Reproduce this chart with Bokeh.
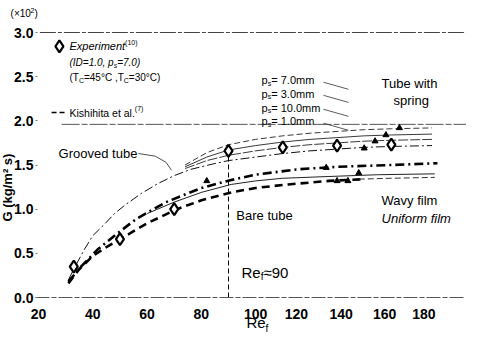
import math
from bokeh.plotting import figure
from bokeh.models import Range1d, FixedTicker, PrintfTickFormatter
from bokeh.core.properties import value
from bokeh.embed import file_html
from bokeh.resources import INLINE

FONT = "Liberation Sans"

# ---------------- data ----------------
# printed x tick labels and the places on the Re scale where the scan prints them
x_tick_labels = ["20", "40", "60", "80", "100", "120", "140", "160", "180"]
x_tick_at = [20, 40, 60, 80, 100, 115, 131.5, 147.5, 162]
y_ticks = [0.0, 0.5, 1.0, 1.5, 2.0, 2.5, 3.0]

# experiment (diamonds)
exp_re = [33, 50, 70, 90, 110, 130, 150]
exp_g = [0.35, 0.66, 1.00, 1.66, 1.70, 1.72, 1.73]

# grooved tube curve (lowest of the thin fan)
groove_re = [31, 34, 37, 40, 44, 48, 52, 58, 64, 70, 76, 84, 90, 100, 110, 120, 130, 140, 150, 165]
groove_g = [0.20, 0.38, 0.55, 0.70, 0.82, 0.95, 1.05, 1.18, 1.29, 1.38, 1.45, 1.51, 1.55, 1.59,
            1.63, 1.66, 1.68, 1.70, 1.71, 1.72]

# tube with spring curves
spring_re = [74, 82, 90, 100, 110, 120, 130, 140, 150, 165]
spring_a = [1.50, 1.64, 1.73, 1.79, 1.83, 1.86, 1.88, 1.90, 1.91, 1.92]
spring_b = [1.48, 1.59, 1.67, 1.72, 1.76, 1.79, 1.81, 1.83, 1.84, 1.85]
spring_c = [1.46, 1.55, 1.61, 1.66, 1.70, 1.73, 1.75, 1.77, 1.78, 1.79]

# bare tube: wavy film (heavy dash-dot)
wavy_re = [31, 36, 42, 48, 56, 67, 80, 91, 100, 115, 130, 150, 167]
wavy_g = [0.18, 0.36, 0.55, 0.70, 0.89, 1.08, 1.24, 1.33, 1.39, 1.45, 1.48, 1.50, 1.52]

# thin line under wavy film
thin_re = [60, 70, 80, 91, 100, 110, 127, 145, 166]
thin_g = [0.95, 1.08, 1.19, 1.28, 1.32, 1.35, 1.37, 1.39, 1.40]

# uniform film / Kishihita (heavy dashed)
unif_re = [31, 35, 40, 45, 50, 60, 71, 80, 91, 100, 112, 127, 140]
unif_g = [0.16, 0.32, 0.47, 0.57, 0.66, 0.84, 1.00, 1.10, 1.19, 1.24, 1.28, 1.32, 1.34]
unif2_re = [138, 150, 166]
unif2_g = [1.34, 1.35, 1.36]

# small filled triangles
tri_re = [153, 148, 144, 140, 126, 138, 130, 134, 82]
tri_g = [1.92, 1.84, 1.77, 1.69, 1.47, 1.41, 1.32, 1.32, 1.32]

# reference lines
re90 = [90, 90]
re90_g = [0.0, 1.70]
top_line_re = [20.5, 177.5]
top_line_g = [3.0, 3.0]
mid_line_re = [28.5, 177.5]
mid_line_g = [1.96, 1.96]

# ---------------- figure ----------------
AXIS_RE = 19.6     # where the G axis stands on the Re scale
p = figure(width=468, height=335, output_backend="svg", toolbar_location=None,
           x_range=Range1d(5.99, 178.43), y_range=Range1d(-0.4302, 3.3624),
           min_border=0, min_border_left=0, min_border_right=0,
           min_border_top=0, min_border_bottom=0)
p.outline_line_color = None
p.grid.visible = False
p.background_fill_color = "white"
p.border_fill_color = "white"

p.xaxis.fixed_location = 0
p.xaxis.bounds = (19.0, 177.0)
p.xaxis.ticker = FixedTicker(ticks=x_tick_at)
p.xaxis.major_label_overrides = {t: s for t, s in zip(x_tick_at, x_tick_labels)}
p.xaxis.axis_line_color = "#555555"
p.xaxis.axis_line_width = 1
p.xaxis.axis_line_dash = "14 2 5 2"
p.xaxis.major_tick_line_color = None
p.xaxis.minor_tick_line_color = None
p.xaxis.major_label_standoff = 5
p.xaxis.major_label_text_font = FONT
p.xaxis.major_label_text_font_size = "14px"
p.xaxis.major_label_text_font_style = "bold"
p.xaxis.major_label_text_color = "black"

p.yaxis.fixed_location = AXIS_RE
p.yaxis.bounds = (0, 3.0)
p.yaxis.ticker = FixedTicker(ticks=y_ticks)
p.yaxis.formatter = PrintfTickFormatter(format="%.1f")
p.yaxis.axis_line_color = None
p.yaxis.major_tick_out = 2
p.yaxis.major_tick_in = 0
p.yaxis.major_tick_line_color = "#777777"
p.yaxis.minor_tick_line_color = None
p.yaxis.major_label_standoff = 2
p.yaxis.major_label_text_font = FONT
p.yaxis.major_label_text_font_size = "14px"
p.yaxis.major_label_text_font_style = "bold"
p.yaxis.major_label_text_color = "black"

# reference lines
p.line(top_line_re, top_line_g, line_color="#444444", line_width=1.2, line_dash="16 2 4 2")
p.line(mid_line_re, mid_line_g, line_color="#555555", line_width=1, line_dash="18 2 6 2")
p.line(re90, re90_g, line_color="black", line_width=1, line_dash="5 3")

# curves
p.line(groove_re, groove_g, line_color="#111111", line_width=1, line_dash="9 3 2 3")
p.line(spring_re, spring_a, line_color="#222222", line_width=0.9, line_dash="6 3")
p.line(spring_re, spring_b, line_color="#222222", line_width=0.9)
p.line(spring_re, spring_c, line_color="#222222", line_width=0.9, line_dash="10 2")
p.line(wavy_re, wavy_g, line_color="black", line_width=2.6, line_dash="9 4 2 4")
p.line(thin_re, thin_g, line_color="#222222", line_width=1)
p.line(unif_re, unif_g, line_color="black", line_width=2.6, line_dash="8 5")
p.line(unif2_re, unif2_g, line_color="#333333", line_width=1, line_dash="6 3")

p.scatter(tri_re, tri_g, marker="triangle", size=6, fill_color="black", line_color="black")
p.scatter(exp_re, exp_g, marker="diamond", size=12, fill_color="white", line_color="black",
          line_width=2.2)

# ---------------- annotation text ----------------
AW = {'(': 333, ')': 333, ' ': 278, ',': 278, '.': 278, '=': 584, '≈': 584, '°': 400,
      'T': 611, 'C': 722, 'I': 278, 'D': 722, 'K': 667, 'E': 667, 'R': 722, 'G': 778, 'B': 667,
      'p': 556, 's': 500, 'm': 833, 'e': 556, 'f': 278, 'x': 500, 'i': 222, 'h': 556,
      't': 278, 'a': 556, 'l': 222, 'r': 333, 'n': 556, 'u': 556, 'b': 556, 'o': 556,
      'v': 500, 'd': 556, 'w': 722, 'g': 556, 'y': 500}


def tw(s, size):
    return sum(AW.get(c, 556) for c in s) / 1000.0 * size


def rich(x, y, pieces, baseline="middle"):
    off = 0.0
    for s, size, style, dy in pieces:
        p.text(x=[x], y=[y], text=[s], x_offset=off, y_offset=dy,
               text_font=value(FONT), text_font_size=f"{size}px", text_font_style=style,
               text_align="left", text_baseline=baseline, text_color="black")
        off += tw(s, size)


# (x10^2) and axis titles
rich(9.7, 3.215, [("(×10", 10, "normal", 0), ("2", 7, "normal", -3), (")", 10, "normal", 0)])
p.text(x=[8.7], y=[1.245], text=["G (kg/m² s)"], angle=math.pi / 2, text_font=value(FONT),
       text_font_size="13px", text_font_style="bold", text_align="center",
       text_baseline="middle", text_color="black")
rich(96.6, -0.3736, [("Re", 15, "normal", 0), ("f", 10, "normal", 3)], baseline="bottom")

# legend block
p.scatter([27.7], [2.842], marker="diamond", size=12, fill_color="white", line_color="black",
          line_width=2.2)
rich(31.4, 2.842, [("Experiment", 11, "italic", 0), ("(10)", 7, "normal", -4)])
rich(31.4, 2.66, [("(ID=1.0, p", 10, "italic", 0), ("s", 7, "italic", 3), ("=7.0)", 10, "italic", 0)])
rich(31.4, 2.491, [("(T", 10, "normal", 0), ("C", 7, "normal", 3), ("=45°C ,T", 10, "normal", 0),
                   ("C", 7, "normal", 3), ("=30°C)", 10, "normal", 0)])
p.line([24.8, 30.3], [2.094, 2.094], line_color="black", line_width=1.4, line_dash="5 3")
rich(31.4, 2.094, [("Kishihita et al.", 10.5, "normal", 0), ("(7)", 7, "normal", -4)])

# p_s labels with leaders
ps_vals = ["7.0", "3.0", "10.0", "1.0"]
ps_g = [2.457, 2.309, 2.151, 1.993]
for v, g in zip(ps_vals, ps_g):
    rich(102.2, g, [("p", 11, "normal", 0), ("s", 7, "normal", 3), (f" = {v}mm", 11, "normal", 0)])
    p.line([125.0, 134.2], [g - 0.02, g - 0.10], line_color="#333333", line_width=0.8)

rich(146.4, 2.423, [("Tube with", 13, "normal", 0)])
rich(150.8, 2.230, [("spring", 13, "normal", 0)])
rich(27.4, 1.630, [("Grooved tube", 13, "normal", 0)])
p.line([56.8, 63.0, 67.0, 69.0], [1.63, 1.60, 1.53, 1.44], line_color="#222222", line_width=0.8)
rich(92.9, 0.928, [("Bare tube", 13, "normal", 0)])
rich(146.4, 1.098, [("Wavy film", 13, "normal", 0)])
rich(146.4, 0.894, [("Uniform film", 13, "italic", 0)])
rich(94.8, 0.283, [("Re", 15, "normal", 0), ("f", 10, "normal", 4), ("≈90", 15, "normal", 0)])

open("out.html", "w").write(file_html(p, INLINE))
